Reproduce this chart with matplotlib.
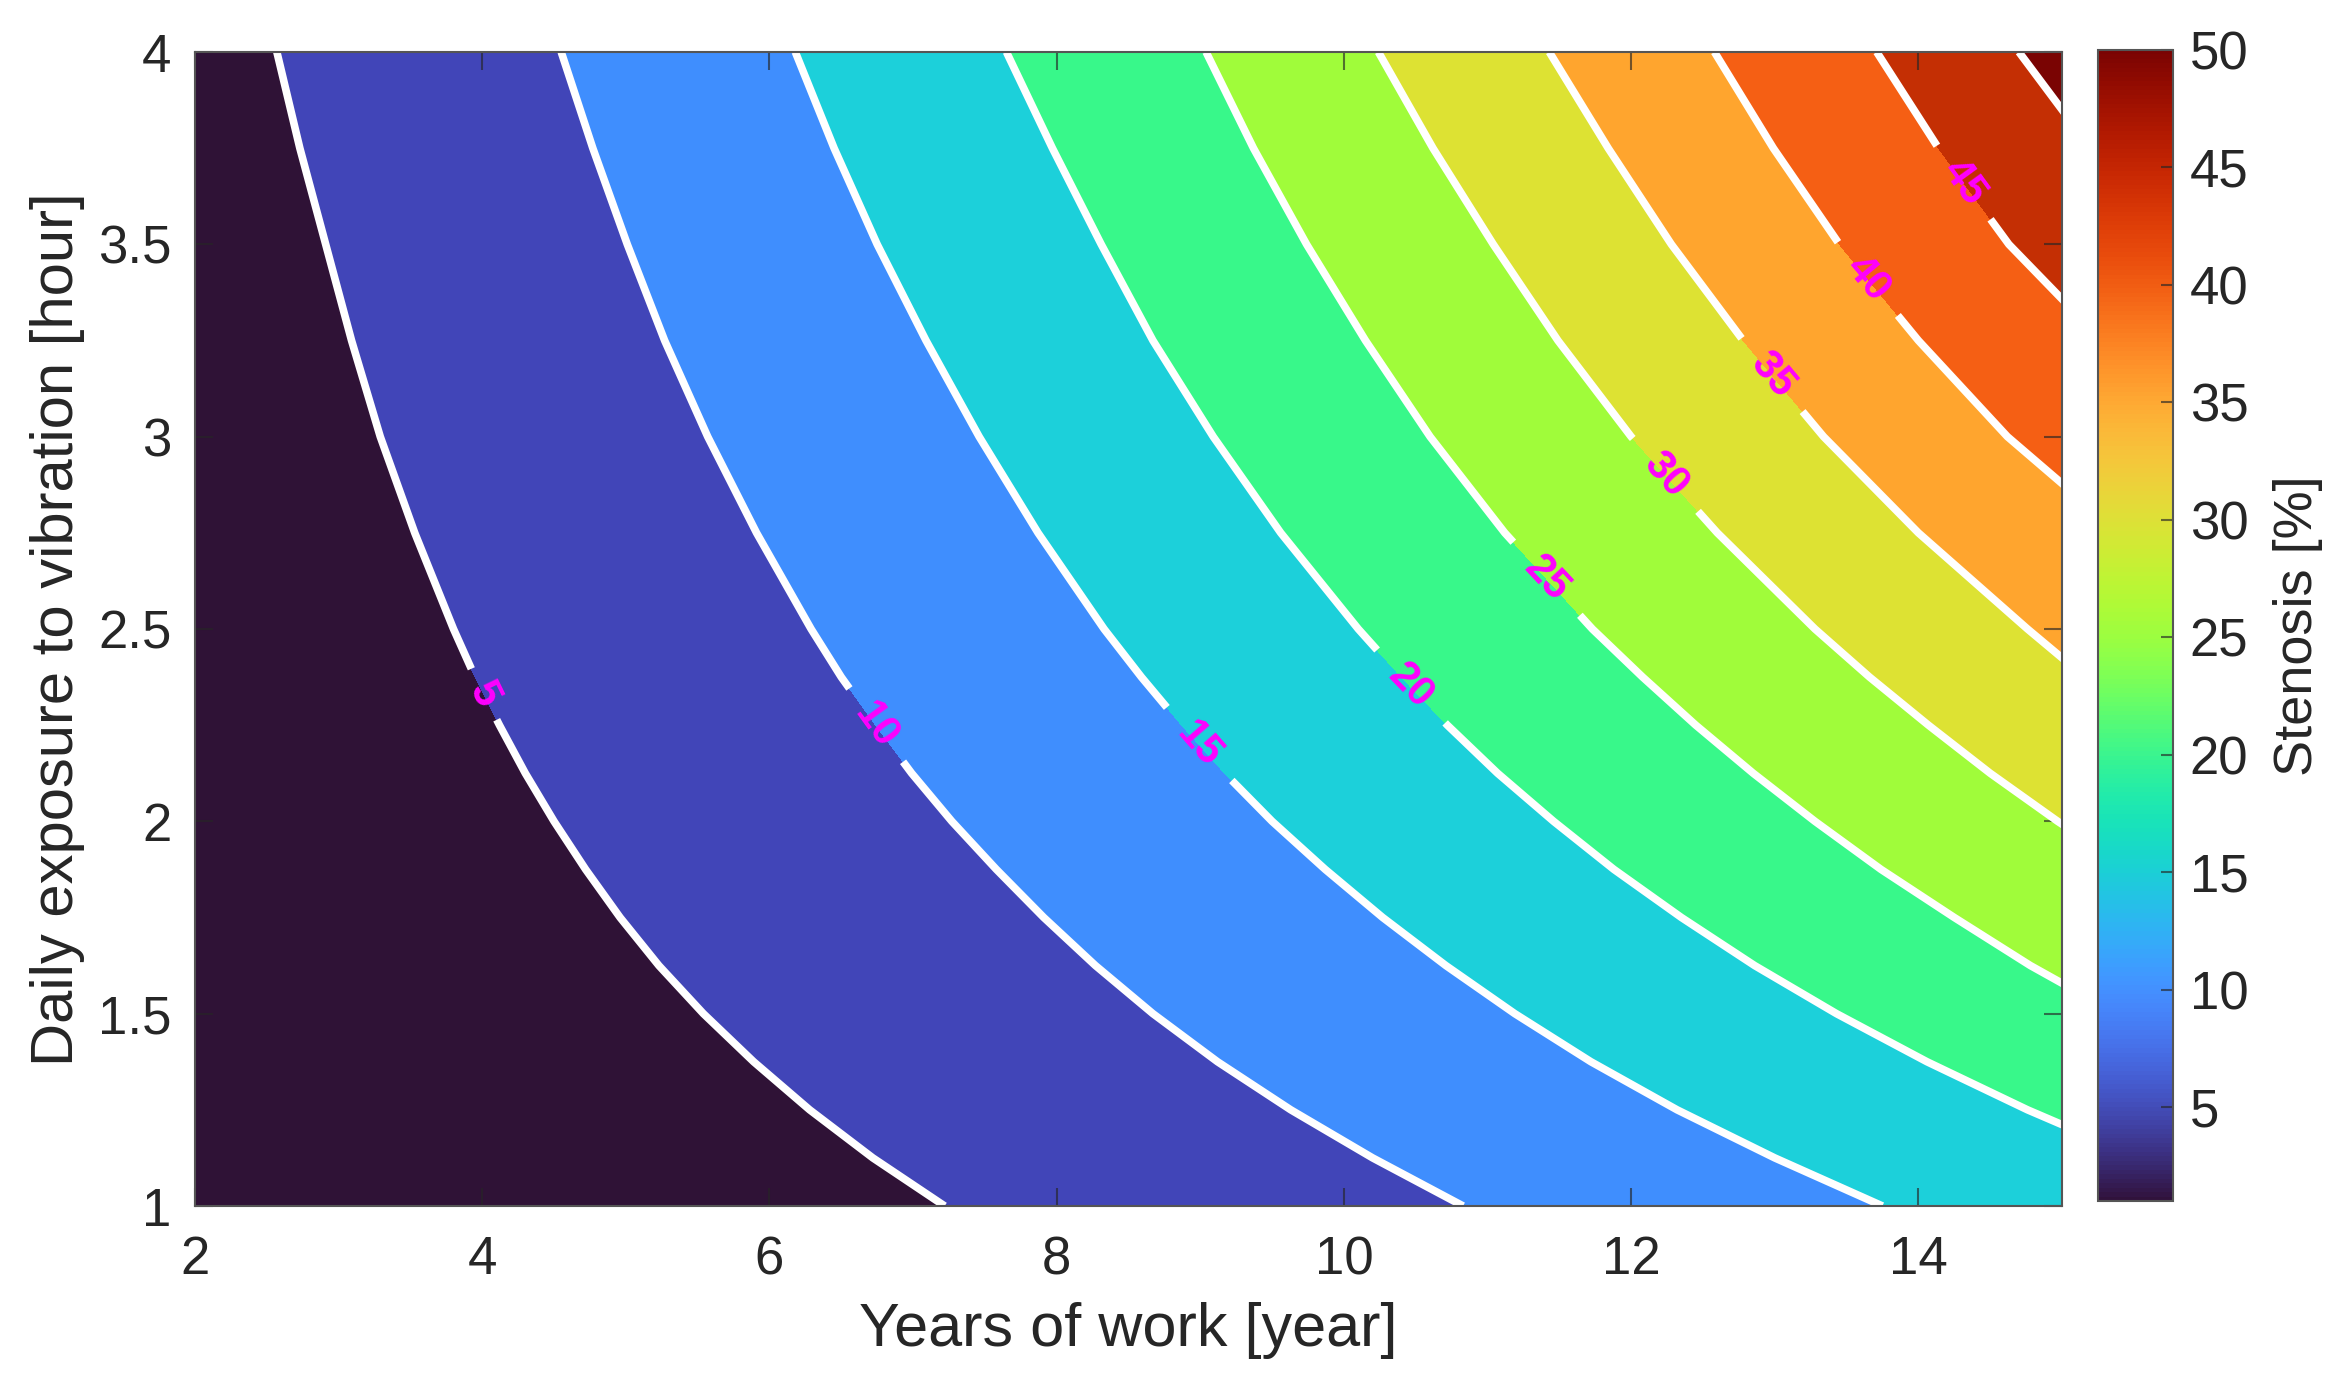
import numpy as np
import matplotlib
matplotlib.use("Agg")
import matplotlib.pyplot as plt
from matplotlib.cm import ScalarMappable
from matplotlib.colors import Normalize

plt.rcParams["font.family"] = ["Liberation Sans", "DejaVu Sans"]

# rows of the table: daily exposure [hour]
hours = [1, 1.125, 1.25, 1.375, 1.5, 1.625, 1.75, 1.875, 2, 2.125, 2.25, 2.375, 2.5,
         2.75, 3, 3.25, 3.5, 3.75, 4]

# years of work where each stenosis level crosses the row (values past 15 are off the plot)
level_5 = [7.22, 6.72, 6.28, 5.89, 5.54, 5.23, 4.96, 4.72, 4.50, 4.30, 4.12, 3.95, 3.80,
           3.53, 3.29, 3.09, 2.91, 2.73, 2.57]
level_10 = [10.83, 10.20, 9.63, 9.12, 8.67, 8.27, 7.91, 7.58, 7.27, 6.99, 6.74, 6.50, 6.29,
            5.91, 5.57, 5.27, 5.01, 4.77, 4.55]
level_15 = [13.75, 13.0, 12.32, 11.72, 11.19, 10.71, 10.27, 9.87, 9.50, 9.17, 8.87, 8.59, 8.33,
            7.87, 7.46, 7.09, 6.75, 6.45, 6.18]
level_20 = [16.4, 15.54, 14.76, 14.06, 13.43, 12.86, 12.35, 11.88, 11.46, 11.07, 10.72, 10.40, 10.10,
            9.56, 9.09, 8.67, 8.31, 7.97, 7.65]
level_25 = [18.6, 17.65, 16.8, 16.05, 15.38, 14.78, 14.25, 13.74, 13.28, 12.85, 12.45, 12.08, 11.73,
            11.12, 10.60, 10.15, 9.74, 9.37, 9.04]
level_30 = [21, 19.95, 19, 18.16, 17.4, 16.69, 16.05, 15.48, 14.97, 14.50, 14.07, 13.66, 13.28,
            12.6, 12.0, 11.49, 11.04, 10.62, 10.24]
level_35 = [23.5, 22.29, 21.2, 20.26, 19.4, 18.61, 17.9, 17.22, 16.6, 16.07, 15.6, 15.16, 14.76,
            14.0, 13.34, 12.78, 12.28, 11.84, 11.43]
level_40 = [26, 24.64, 23.4, 22.30, 21.3, 20.46, 19.7, 18.97, 18.3, 17.72, 17.2, 16.70, 16.25,
            15.4, 14.62, 14.0, 13.45, 12.99, 12.58]
level_45 = [28, 26.64, 25.4, 24.25, 23.2, 22.26, 21.4, 20.62, 19.9, 19.27, 18.7, 18.13, 17.6,
            16.7, 15.95, 15.28, 14.63, 14.14, 13.71]
level_50 = [30, 28.53, 27.2, 26.05, 25, 23.96, 23, 22.17, 21.4, 20.72, 20.1, 19.53, 19,
            18, 17.2, 16.4, 15.8, 15.2, 14.7]

levels = [5, 10, 15, 20, 25, 30, 35, 40, 45, 50]
band_colors = ["#2f1236", "#4145b8", "#3f8efe", "#1cd0da", "#38f88a", "#a0fc3a",
               "#dde233", "#ffa52e", "#f55f14", "#c42f04", "#7a0403"]

# where the inline labels sit, and their slant on screen
label_years = [3.98, 6.73, 8.92, 10.43, 11.37, 12.2, 12.95, 13.63, 14.26]
label_hours = [2.33, 2.25, 2.2, 2.35, 2.63, 2.9, 3.16, 3.41, 3.66]
label_angles = [-64, -54, -49, -46, -47, -48, -50, -50, -54]

year_ticks = [2, 4, 6, 8, 10, 12, 14]
hour_ticks = [1, 1.5, 2, 2.5, 3, 3.5, 4]
bar_ticks = [5, 10, 15, 20, 25, 30, 35, 40, 45, 50]

crossings = [level_5, level_10, level_15, level_20, level_25,
             level_30, level_35, level_40, level_45, level_50]

# grid follows the read curves, one outer column each side to close the bands
n_rows = len(hours)
X = np.column_stack([np.full(n_rows, 0.0)] + [np.array(c) for c in crossings] + [np.full(n_rows, 60.0)])
Y = np.tile(np.array(hours)[:, None], (1, X.shape[1]))
Z = np.tile(np.array([0] + levels + [55.0]), (n_rows, 1))

W, H = 2344, 1381
fig = plt.figure(figsize=(W / 100, H / 100), dpi=100)
ax = fig.add_axes([195 / W, 1 - 1206 / H, (2062 - 195) / W, (1206 - 52) / H])

ax.contourf(X, Y, Z, levels=[0] + levels + [55], colors=band_colors)
cs = ax.contour(X, Y, Z, levels=levels, colors="white", linewidths=5.5)
labels = ax.clabel(cs, levels[:-1], manual=list(zip(label_years, label_hours)),
                   colors="#ff00ff", fontsize=30, fmt="%d", inline=True, inline_spacing=14)
for t, a in zip(labels, label_angles):
    t.set_rotation(a)
    t.set_fontweight("bold")

ax.set_xlim(2, 15)
ax.set_ylim(1, 4)
ax.set_xticks(year_ticks)
ax.set_yticks(hour_ticks)
ax.set_yticklabels(["1", "1.5", "2", "2.5", "3", "3.5", "4"])

tick_color = (0.15, 0.15, 0.15, 0.65)
ax.tick_params(direction="in", length=13, width=1.5, color=tick_color, top=True, right=True,
               labelsize=38, labelcolor="#262626")
ax.tick_params(axis="x", pad=21)
ax.tick_params(axis="y", pad=17)
for s in ax.spines.values():
    s.set_color("#555555")
    s.set_linewidth(1.5)

ax.set_xlabel("Years of work [year]", fontsize=44, color="#262626", labelpad=12)
ax.set_ylabel("Daily exposure to vibration [hour]", fontsize=43, color="#262626", labelpad=9)

cax = fig.add_axes([2098 / W, 1 - 1201 / H, (2173 - 2098) / W, (1201 - 50) / H])
sm = ScalarMappable(norm=Normalize(1, 50), cmap="turbo")
cb = fig.colorbar(sm, cax=cax, ticks=bar_ticks)
cb.ax.tick_params(direction="in", length=9, width=1.5, color=tick_color,
                  labelsize=38, labelcolor="#262626", pad=12)
cb.outline.set_edgecolor("#555555")
cb.outline.set_linewidth(1.5)
cb.set_label("Stenosis [%]", fontsize=39, color="#262626", labelpad=18)

fig.savefig("out.png", dpi=100)
